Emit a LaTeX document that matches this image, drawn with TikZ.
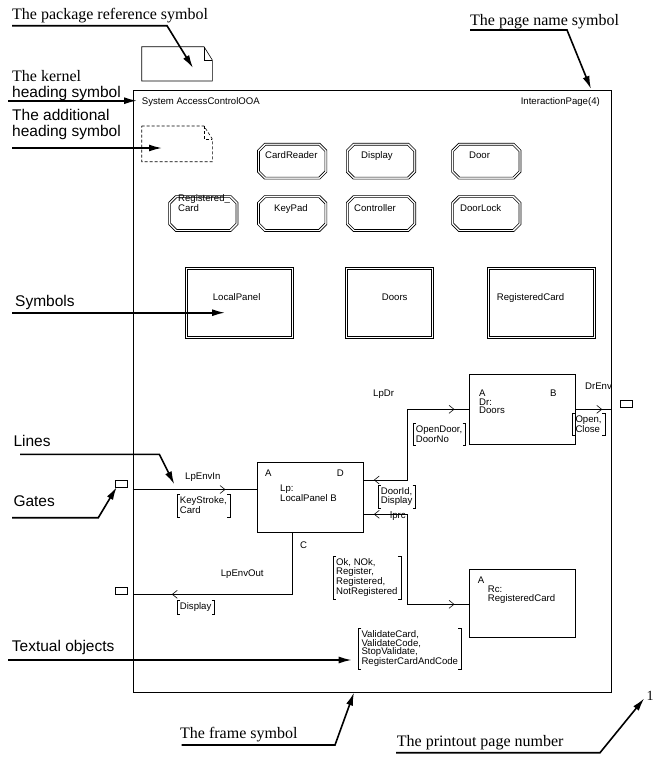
\documentclass[tikz,border=0pt]{standalone}
\usepackage{fontspec}
\setmainfont{Liberation Serif}
\setsansfont{Liberation Sans}
\usetikzlibrary{arrows.meta,calc}
\newcommand\brk[1]{\draw[thin] ([xshift=3pt]#1.north west) -- (#1.north west) -- (#1.south west) -- ([xshift=3pt]#1.south west)
  ([xshift=-3pt]#1.north east) -- (#1.north east) -- (#1.south east) -- ([xshift=-3pt]#1.south east);}
\newcommand\octpath[2]{% node, chamfer
  \draw[line width=0.6pt] ($(#1.north west)+(#2,0)$) -- ($(#1.north east)+(-#2,0)$) -- ($(#1.north east)+(0,#2)$)
   -- ($(#1.south east)+(0,-#2)$) -- ($(#1.south east)+(-#2,0)$) -- ($(#1.south west)+(#2,0)$)
   -- ($(#1.south west)+(0,-#2)$) -- ($(#1.north west)+(0,#2)$) -- cycle;}
\begin{document}
\begin{tikzpicture}[x=1pt,y=-1pt,
  sm/.style={font=\sffamily\fontsize{9.6}{8.5}\selectfont, inner sep=0pt, anchor=base west},
  sig/.style={font=\sffamily\fontsize{9.6}{8.5}\selectfont, align=left, inner xsep=3pt, inner ysep=2.5pt, anchor=north west},
  bigsans/.style={font=\sffamily\fontsize{15.5}{15.5}\selectfont, inner sep=0pt, anchor=base west},
  bigser/.style={font=\rmfamily\fontsize{16}{16}\selectfont, inner sep=0pt, anchor=base west},
  ptr/.style={line width=1.6pt, -{Latex[length=13pt,width=7pt]}},
  octo/.style={rectangle, minimum width=69pt, minimum height=35.5pt, inner sep=0pt},
  octi/.style={rectangle, minimum width=65pt, minimum height=31.5pt, inner sep=0pt},
  rect/.style={rectangle, draw, line width=0.6pt, inner sep=0pt},
  proc/.style={rectangle, draw, line width=0.6pt, inner sep=0pt, anchor=north west},
  gate/.style={rectangle, draw, line width=0.6pt, inner sep=0pt, minimum width=12pt, minimum height=7pt},
  conn/.style={line width=0.6pt},
  chev/.pic={\draw[line width=0.6pt] (-5,-4) -- (0,0) -- (-5,4);}
]
\useasboundingbox (0,0) rectangle (658,761);

% frame
\node[draw, line width=0.6pt, inner sep=0pt, anchor=north west, minimum width=478.5pt, minimum height=602pt] (frame) at (132.5,90) {};
\node[sm] (kern) at (141.7,104) {System AccessControlOOA};
\node[sm, anchor=base east] (pname) at (600,104) {InteractionPage(4)};

% package reference symbol
\draw[line width=0.6pt] (141.7,46.7) -- (204,46.7) -- (212.3,60) -- (212.3,81) -- (141.7,81) -- cycle;
\draw[line width=0.6pt] (204,46.7) -- (204,60) -- (212.3,60);
% additional heading symbol
\draw[line width=0.6pt, dash pattern=on 3pt off 2pt] (141.7,126) -- (204,126) -- (212.3,139) -- (212.3,161.7) -- (141.7,161.7) -- cycle;
\draw[line width=0.6pt, dash pattern=on 3pt off 2pt] (204,126) -- (204,139) -- (212.3,139);

% octagon symbols
\foreach \n/\x/\y in {o1/292.2/161.2, o2/381/161.2, o3/486.3/161.2, o4/203.3/213.5, o5/292.2/213.5, o6/381/213.5, o7/486.3/213.5}{
  \node[octo] (\n) at (\x,\y) {};
  \node[octi] (\n i) at (\n) {};
  \octpath{\n}{7}
  \octpath{\n i}{6.2}
}
\node[sm] (t1) at (265,158) {CardReader};
\node[sm] (t2) at (361,158) {Display};
\node[sm] (t3) at (469,158) {Door};
\node[sm, align=left] (t4) at (178,211) {Registered\_\\Card};
\node[sm] (t5) at (274,211.5) {KeyPad};
\node[sm] (t6) at (354,211.5) {Controller};
\node[sm] (t7) at (460,211.5) {DoorLock};

% double rectangles
\node[rect, minimum width=107.6pt, minimum height=71pt] (b1) at (239.5,302.5) {};
\node[rect, minimum width=103.6pt, minimum height=67pt] (b1i) at (b1) {};
\node[rect, minimum width=88pt, minimum height=71pt] (b2) at (389,302.5) {};
\node[rect, minimum width=84pt, minimum height=67pt] (b2i) at (b2) {};
\node[rect, minimum width=108pt, minimum height=71pt] (b3) at (541,302.5) {};
\node[rect, minimum width=104pt, minimum height=67pt] (b3i) at (b3) {};
\node[sm] (bt1) at (212.7,300.7) {LocalPanel};
\node[sm] (bt2) at (381.7,300.7) {Doors};
\node[sm] (bt3) at (496.7,300.7) {RegisteredCard};

% process boxes
\node[proc, minimum width=106pt, minimum height=70pt] (lp) at (257.3,462.3) {};
\node[proc, minimum width=106pt, minimum height=70pt] (dr) at (469.3,374.3) {};
\node[proc, minimum width=106pt, minimum height=68.5pt] (rc) at (469.3,568.7) {};
\node[sm] (lpA) at (265,476.7) {A};
\node[sm] (lpD) at (336.7,476.7) {D};
\node[sm, align=left] (lpN) at (280,501.5) {Lp:\\LocalPanel B};
\node[sm] (lpC) at (300,548) {C};
\node[sm] (drA) at (479,396.7) {A};
\node[sm] (drB) at (550,396.7) {B};
\node[sm, align=left] (drN) at (479,413.5) {Dr:\\Doors};
\node[sm] (rcA) at (477.7,583.3) {A};
\node[sm, align=left] (rcN) at (487.7,601) {Rc:\\RegisteredCard};

% gates
\node[gate] (g1) at (121.7,484) {};
\node[gate] (g2) at (121.7,590.5) {};
\node[gate] (g3) at (626.5,403.5) {};

% connector points
\coordinate (inF) at (132.5,489.5);
\coordinate (inL) at (257.3,489.5);
\coordinate (outC) at (292.3,532.3);
\coordinate (outK) at (292.3,594.3);
\coordinate (outF) at (132.5,594.3);
\coordinate (dL) at (363.3,480);
\coordinate (dK1) at (407.7,480);
\coordinate (dK2) at (407.7,409.3);
\coordinate (dR) at (469.3,409.3);
\coordinate (bR) at (575.3,409.3);
\coordinate (bF) at (611,409.3);
\coordinate (rL) at (363.3,514.3);
\coordinate (rK1) at (407.7,514.3);
\coordinate (rK2) at (407.7,604.3);
\coordinate (rR) at (469.3,604.3);

\draw[conn] (inF) -- (inL);
\draw[conn] (outC) -- (outK) -- (outF);
\draw[conn] (dL) -- (dK1) -- (dK2) -- (dR);
\draw[conn] (bR) -- (bF);
\draw[conn] (rL) -- (rK1) -- (rK2) -- (rR);
\pic at (225,489.5) {chev};
\pic[rotate=180] at (172.3,594.3) {chev};
\pic at (454,409.3) {chev};
\pic[rotate=180] at (374.3,480) {chev};
\pic at (601.7,409.3) {chev};
\pic[rotate=180] at (374.3,514.3) {chev};
\pic at (454,604.3) {chev};

% connector labels
\node[sm] (lEnvIn) at (185,479) {LpEnvIn};
\node[sm] (lEnvOut) at (220.7,576.7) {LpEnvOut};
\node[sm] (lDr) at (373,396.7) {LpDr};
\node[sm] (lDrEnv) at (585,389) {DrEnv};
\node[sm] (lrc) at (390,518) {lprc};

% signal lists
\node[sig] (s1) at (176.7,494.3) {KeyStroke,\\Card};
\brk{s1}
\node[sig] (s2) at (176.7,600) {Display};
\brk{s2}
\node[sig] (s3) at (412.7,423.3) {OpenDoor,\\DoorNo};
\brk{s3}
\node[sig] (s4) at (572.3,413) {Open,\\Close};
\brk{s4}
\node[sig] (s5) at (377.7,485) {DoorId,\\Display};
\brk{s5}
\node[sig] (s6) at (333,556) {Ok, NOk,\\Register,\\Registered,\\NotRegistered};
\brk{s6}
\node[sig] (s7) at (358.3,628.3) {ValidateCard,\\ValidateCode,\\StopValidate,\\RegisterCardAndCode};
\brk{s7}

% annotations
\node[bigser] (aPkg) at (12,19) {The package reference symbol};
\node[bigser] (aPage) at (470,25) {The page name symbol};
\node[bigser] (aKer1) at (12,81) {The kernel};
\node[bigsans] (aKer2) at (12,97) {heading symbol};
\node[bigsans, align=left] (aAdd) at (12,136) {The additional\\heading symbol};
\node[bigsans] (aSym) at (15,306) {Symbols};
\node[bigsans] (aLin) at (13.3,446.7) {Lines};
\node[bigsans] (aGat) at (13.3,506.7) {Gates};
\node[bigsans] (aTxt) at (11.7,651) {Textual objects};
\node[bigser] (aFrm) at (180,738) {The frame symbol};
\node[bigser] (aNum) at (396.7,746) {The printout page number};
\node[font=\rmfamily\fontsize{14}{14}\selectfont, inner sep=0pt, anchor=base west] (pnum) at (646.5,700) {1};

\coordinate (p1a) at (12,25.7); \coordinate (p1b) at (167,25.7); \coordinate (p1c) at (193,68);
\coordinate (p2a) at (470,30); \coordinate (p2b) at (567,30); \coordinate (p2c) at (591,89);
\coordinate (p3a) at (8,100.7); \coordinate (p3c) at (137,100.7);
\coordinate (p4a) at (12,148); \coordinate (p4c) at (162,148);
\coordinate (p5a) at (12,312.7); \coordinate (p5c) at (225,312.7);
\coordinate (p6a) at (20,454.3); \coordinate (p6b) at (159.3,454.3); \coordinate (p6c) at (174.3,484.3);
\coordinate (p7a) at (12,517.7); \coordinate (p7b) at (98.3,517.7); \coordinate (p7c) at (116.7,487);
\coordinate (p8a) at (8,660); \coordinate (p8c) at (351.7,660);
\coordinate (p9a) at (181.7,745); \coordinate (p9b) at (335,745); \coordinate (p9c) at (354,692.5);
\coordinate (p10a) at (396,752.7); \coordinate (p10b) at (600,752.7); \coordinate (p10c) at (644.3,698.3);

\draw[ptr] (p1a) -- (p1b) -- (p1c);
\draw[ptr] (p2a) -- (p2b) -- (p2c);
\draw[ptr] (p3a) -- (p3c);
\draw[ptr] (p4a) -- (p4c);
\draw[ptr] (p5a) -- (p5c);
\draw[ptr] (p6a) -- (p6b) -- (p6c);
\draw[ptr] (p7a) -- (p7b) -- (p7c);
\draw[ptr] (p8a) -- (p8c);
\draw[ptr] (p9a) -- (p9b) -- (p9c);
\draw[ptr] (p10a) -- (p10b) -- (p10c);
\end{tikzpicture}
\end{document}
